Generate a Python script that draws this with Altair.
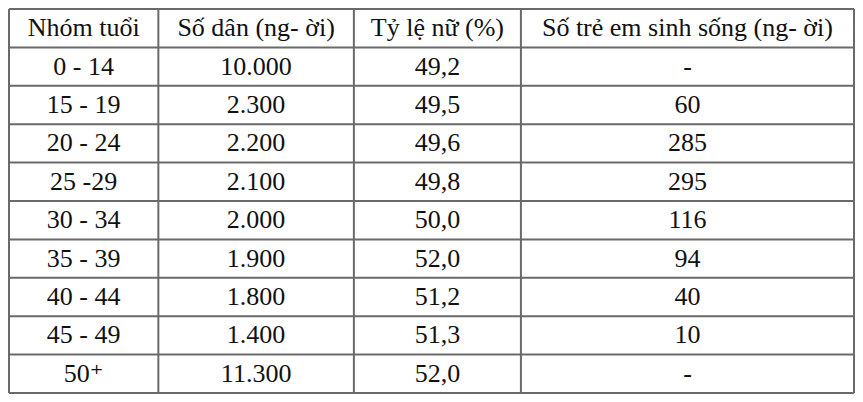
import altair as alt
import pandas as pd

headers = ["Nhóm tuổi", "Số dân (ng- ời)", "Tỷ lệ nữ (%)", "Số trẻ em sinh sống (ng- ời)"]
age_groups = ["0 - 14", "15 - 19", "20 - 24", "25 -29", "30 - 34", "35 - 39", "40 - 44", "45 - 49", "50⁺"]
population = ["10.000", "2.300", "2.200", "2.100", "2.000", "1.900", "1.800", "1.400", "11.300"]
female_pct = ["49,2", "49,5", "49,6", "49,8", "50,0", "52,0", "51,2", "51,3", "52,0"]
births = ["-", "60", "285", "295", "116", "94", "40", "10", "-"]

# table layout (relative column widths)
col_widths = [152, 199, 170, 339]
edges = [0]
for w in col_widths:
    edges.append(edges[-1] + w)
centers = [(edges[i] + edges[i + 1]) / 2 for i in range(len(col_widths))]
n_rows = len(age_groups) + 1

cells = []
for c, h in enumerate(headers):
    cells.append({"x": centers[c], "y": 0.5, "label": h})
for r, row in enumerate(zip(age_groups, population, female_pct, births)):
    for c, v in enumerate(row):
        cells.append({"x": centers[c], "y": r + 1.5, "label": v})
cells = pd.DataFrame(cells)

vlines = pd.DataFrame({"x": edges, "y": [0] * len(edges), "y2": [n_rows] * len(edges)})
hlines = pd.DataFrame(
    {"y": list(range(n_rows + 1)), "x": [0] * (n_rows + 1), "x2": [edges[-1]] * (n_rows + 1)}
)

xs = alt.Scale(domain=[0, edges[-1]], nice=False, zero=False)
ys = alt.Scale(domain=[0, n_rows], reverse=True, nice=False, zero=False)

text = (
    alt.Chart(cells)
    .mark_text(
        font="'Times New Roman', 'Liberation Serif', 'DejaVu Serif', serif",
        fontSize=26,
        color="#111",
        baseline="middle",
        align="center",
    )
    .encode(
        alt.X("x:Q", scale=xs, axis=None),
        alt.Y("y:Q", scale=ys, axis=None),
        alt.Text("label:N"),
    )
)

v = (
    alt.Chart(vlines)
    .mark_rule(color="#6a6a6a", strokeWidth=2)
    .encode(alt.X("x:Q", scale=xs, axis=None), alt.Y("y:Q", scale=ys, axis=None), alt.Y2("y2:Q"))
)

h = (
    alt.Chart(hlines)
    .mark_rule(color="#6a6a6a", strokeWidth=2)
    .encode(alt.Y("y:Q", scale=ys, axis=None), alt.X("x:Q", scale=xs, axis=None), alt.X2("x2:Q"))
)

chart = (
    (v + h + text)
    .properties(width=845, height=384, padding=1, autosize=alt.AutoSizeParams(type="none"))
    .configure_view(stroke=None)
    .configure(background="white")
)

chart.save("out.html", embed_options={"renderer": "svg", "actions": False})
